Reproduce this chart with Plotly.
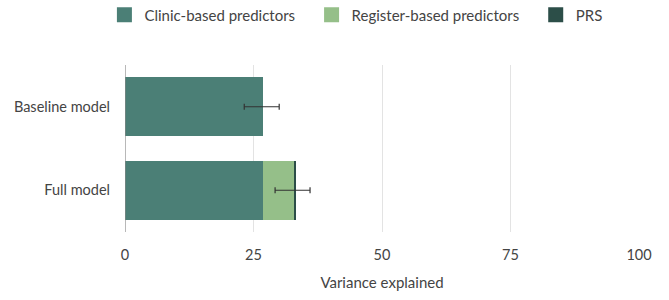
import plotly.graph_objects as go

models = ["Baseline model", "Full model"]
clinic = [26.9, 26.9]
register = [0.0, 6.0]
prs = [0.0, 0.35]
err_center = [26.6, 32.6]
err_half = [3.4, 3.4]

names = ["Clinic-based predictors", "Register-based predictors", "PRS"]
c_clinic = "#4b7f76"
c_register = "#95bf89"
c_prs = "#2c4e48"
colors = [c_clinic, c_register, c_prs]
font = "Lato, Open Sans, sans-serif"
txt = "#444444"

fig = go.Figure()
for vals, nm, col in zip([clinic, register, prs], names, colors):
    fig.add_trace(go.Bar(y=models, x=vals, orientation="h", name=nm, showlegend=False,
                         marker=dict(color=col, line=dict(width=0))))
fig.add_trace(go.Scatter(y=models, x=err_center, mode="markers", showlegend=False,
                         marker=dict(size=0.1, color="rgba(0,0,0,0)"),
                         error_x=dict(type="data", array=err_half, color="#333333",
                                      thickness=1.2, width=3),
                         hoverinfo="skip"))
# legend entries (square swatches)
pad = "\u00a0" * 3
for i, (nm, col) in enumerate(zip(names, colors)):
    fig.add_trace(go.Scatter(x=[None], y=[None], mode="markers",
                             name=nm + (pad if i < len(names) - 1 else ""),
                             marker=dict(symbol="square", size=15, color=col),
                             showlegend=True))

fig.update_layout(
    width=669, height=300,
    barmode="stack", bargap=0.29,
    plot_bgcolor="white", paper_bgcolor="white",
    margin=dict(l=125, r=30, t=65, b=65),
    font=dict(family=font, size=14.5, color=txt),
    legend=dict(orientation="h", x=0.532, xref="container", xanchor="center",
                y=0.95, yref="container", yanchor="middle",
                font=dict(size=15, color=txt), traceorder="normal",
                itemwidth=30, itemsizing="trace"),
    xaxis=dict(range=[0, 100], tickvals=[0, 25, 50, 75, 100], showgrid=True,
               gridcolor="#e3e3e3", gridwidth=1, zeroline=False, showline=False,
               ticks="", ticklabelstandoff=12,
               title=dict(text="Variance explained", standoff=15,
                          font=dict(size=15, color=txt)),
               tickfont=dict(size=14.5, color=txt)),
    yaxis=dict(autorange="reversed", showgrid=False, zeroline=False, ticks="",
               ticklabelstandoff=14, tickfont=dict(size=14.5, color=txt)),
    shapes=[dict(type="line", xref="x", yref="paper", x0=0, x1=0, y0=0, y1=1,
                 line=dict(color="#888888", width=1.2))],
)

fig.write_html("out.html")
